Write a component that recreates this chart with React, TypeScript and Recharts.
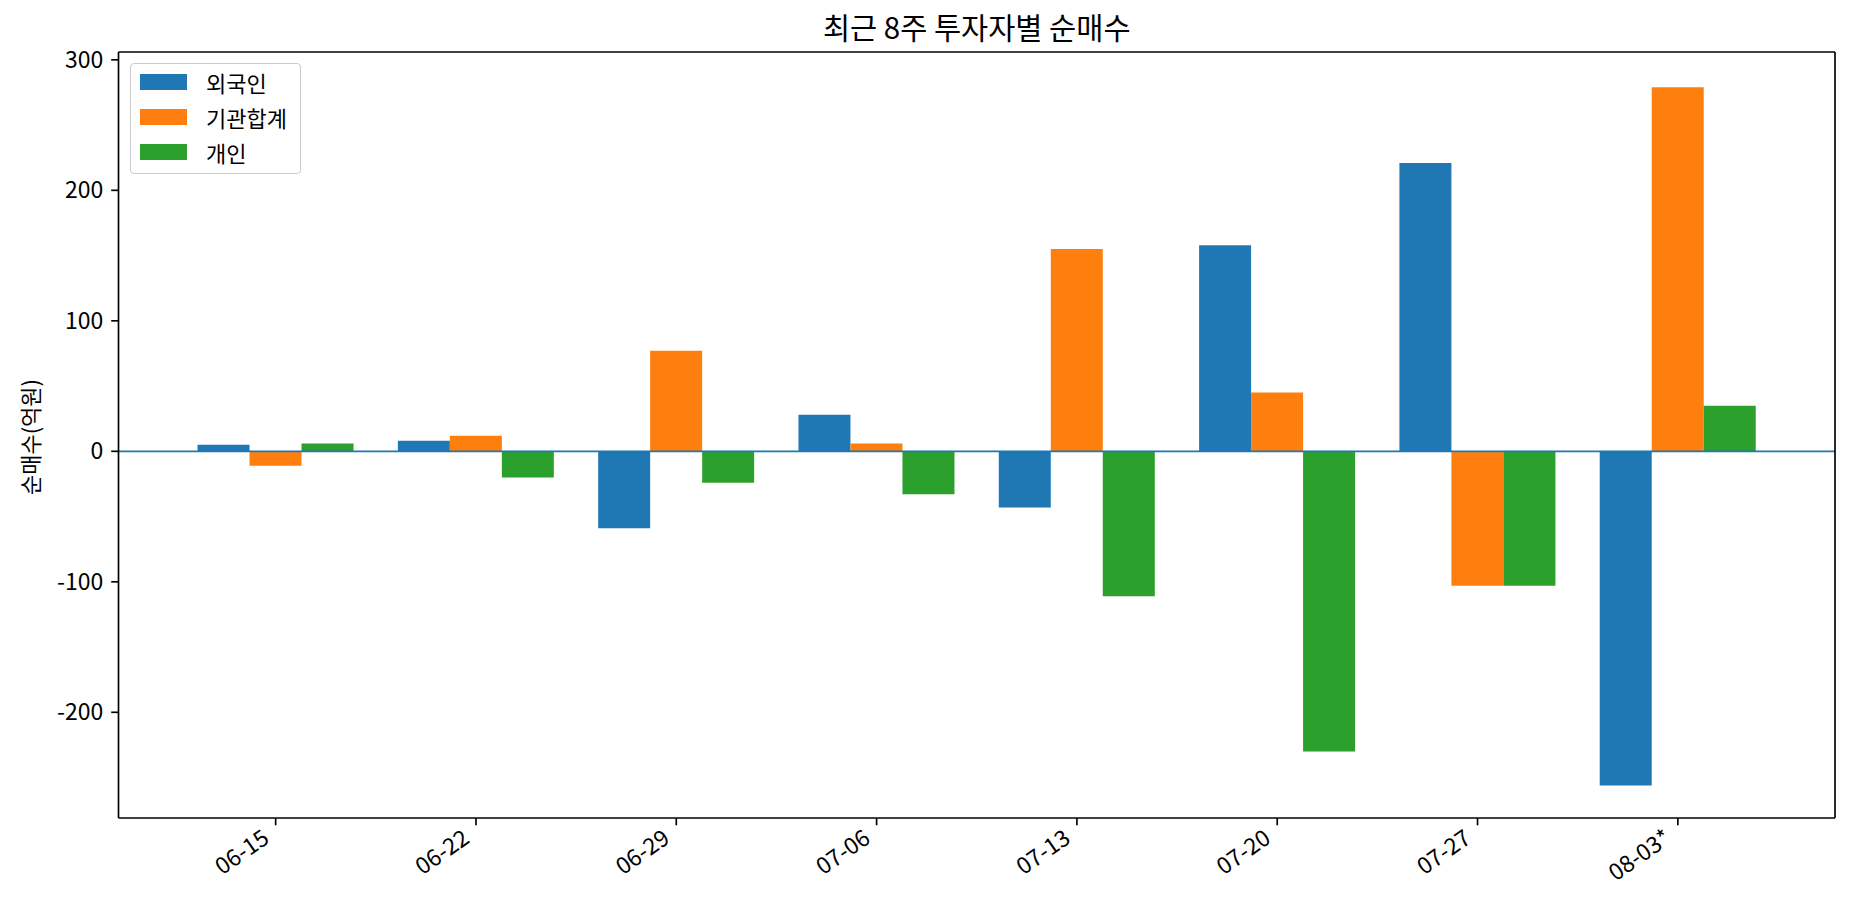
import React from 'react';
import { BarChart, Bar, XAxis, YAxis, ReferenceLine, Legend } from 'recharts';

const WEEKS = ['06-15', '06-22', '06-29', '07-06', '07-13', '07-20', '07-27', '08-03*'];
const FOREIGN = [5, 8, -59, 28, -43, 158, 221, -256];
const INSTITUTION = [-11, 12, 77, 6, 155, 45, -103, 279];
const INDIVIDUAL = [6, -20, -24, -33, -111, -230, -103, 35];
const Y_TICKS = [-200, -100, 0, 100, 200, 300];

const SERIES = [
  { key: 'foreign', name: '외국인', color: '#1f77b4' },
  { key: 'institution', name: '기관합계', color: '#ff7f0e' },
  { key: 'individual', name: '개인', color: '#2ca02c' },
];

const FONT = '"Noto Sans CJK KR", "Noto Sans", sans-serif';
const LW = 1.67;
const TICK_FS = 23;

const data = WEEKS.map((week, i) => ({
  week,
  foreign: FOREIGN[i],
  institution: INSTITUTION[i],
  individual: INDIVIDUAL[i],
}));

// rotated x labels, right end sits under the tick (like ha='right')
const XTick = ({ x, y, payload }: { x?: number; y?: number; payload?: { value: string } }) => (
  <g transform={`translate(${(x ?? 0) - 5},${(y ?? 0) + 9})`}>
    <text textAnchor="end" transform="rotate(-35)" fontSize={TICK_FS} fill="#000" fontFamily={FONT}>
      {payload?.value}
    </text>
  </g>
);

const LegendBox = () => (
  <div style={{
    border: `${LW}px solid #cccccc`,
    borderRadius: 4,
    background: 'rgba(255,255,255,0.8)',
    padding: '1px 13px 4px 9px',
    fontFamily: FONT,
    fontSize: 22,
    color: '#000',
  }}>
    {SERIES.map((s) => (
      <div key={s.key} style={{ display: 'flex', alignItems: 'center', height: 34.7 }}>
        <span style={{ display: 'inline-block', width: 47, height: 16, background: s.color, marginRight: 19 }} />
        <span>{s.name}</span>
      </div>
    ))}
  </div>
);

export default function App() {
  return (
    <div style={{ position: 'absolute', left: 0, top: 0, width: 1853, height: 918, background: '#fff', fontFamily: FONT }}>
      <div style={{
        position: 'absolute', left: 118.5, width: 1716.5, top: 10, height: 32, lineHeight: '32px',
        textAlign: 'center', fontSize: 29.5, color: '#000',
      }}>
        최근 8주 투자자별 순매수
      </div>
      <div style={{
        position: 'absolute', left: 29, top: 437, width: 0, height: 0,
      }}>
        <div style={{
          position: 'absolute', left: 0, top: 0, transform: 'translate(-50%,-50%) rotate(-90deg)',
          whiteSpace: 'nowrap', fontSize: 22, color: '#000', lineHeight: '26px',
        }}>
          순매수(억원)
        </div>
      </div>
      <BarChart
        width={1853}
        height={918}
        data={data}
        margin={{ top: 51, right: 17, left: 0, bottom: 0 }}
        barCategoryGap="11%"
        barGap={0}
      >
        <XAxis
          dataKey="week"
          height={100}
          padding={{ left: 57, right: 57 }}
          axisLine={{ stroke: '#000', strokeWidth: LW }}
          tickLine={{ stroke: '#000', strokeWidth: LW }}
          tickSize={7.3}
          tickMargin={7.3}
          interval={0}
          tick={<XTick />}
        />
        {/* top and right spines */}
        <XAxis
          xAxisId="top"
          type="number"
          domain={[0, 1]}
          allowDataOverflow
          orientation="top"
          height={1}
          axisLine={{ stroke: '#000', strokeWidth: LW }}
          tick={false}
          tickLine={false}
        />
        <YAxis
          width={118.5}
          domain={[-281, 306]}
          ticks={Y_TICKS}
          allowDataOverflow
          axisLine={{ stroke: '#000', strokeWidth: LW }}
          tickLine={{ stroke: '#000', strokeWidth: LW }}
          tickSize={7.3}
          tickMargin={8}
          tick={{ fontSize: TICK_FS, fill: '#000', fontFamily: FONT }}
        />
        <YAxis
          yAxisId="right"
          orientation="right"
          type="number"
          domain={[0, 1]}
          allowDataOverflow
          width={1}
          axisLine={{ stroke: '#000', strokeWidth: LW }}
          tick={false}
          tickLine={false}
        />
        {SERIES.map((s) => (
          <Bar key={s.key} dataKey={s.key} name={s.name} fill={s.color} isAnimationActive={false} />
        ))}
        <ReferenceLine y={0} stroke="#1f77b4" strokeWidth={LW} />
        <Legend
          layout="vertical"
          align="center"
          verticalAlign="middle"
          wrapperStyle={{ left: 130, top: 63, width: 'auto', height: 'auto' }}
          content={<LegendBox />}
        />
      </BarChart>
    </div>
  );
}
